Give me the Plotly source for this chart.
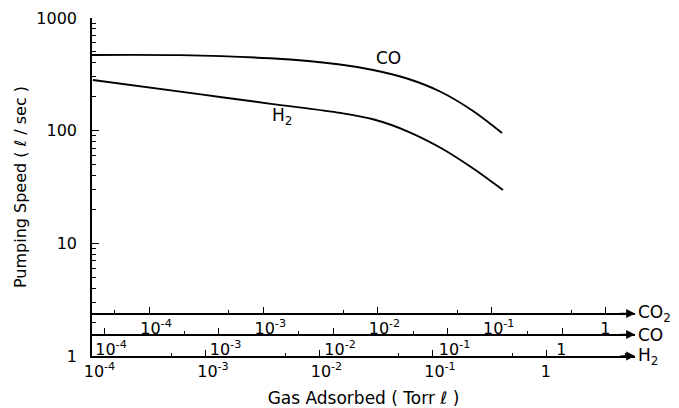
import numpy as np
import plotly.graph_objects as go

# ---- data ----
co_x = [7.85e-5, 4.61e-4, 2.82e-3, 0.01151, 0.02235, 0.04428, 0.08599, 0.1670, 0.2992]
co_y = [470, 468, 438.7, 386.6, 345.5, 290.4, 222.6, 149.5, 95.3]

h2_x = [1.01e-4, 9.03e-4, 3.738e-3, 0.01547, 0.03021, 0.06021, 0.1176, 0.2297, 0.4137]
h2_y = [281.6, 209.8, 173.1, 143.4, 125.6, 98.3, 70.2, 45.7, 29.7]

y_tick_vals = [1, 10, 100, 1000]
y_tick_text = ["1", "10", "100", "1000"]
y_minor_vals = [m * d for d in (1, 10, 100) for m in range(2, 10)]

x_tick_vals = [1e-4, 1e-3, 1e-2, 1e-1, 1]
NB = "\u00a0"
x_tick_text = ["10<sup>-4</sup>", "10<sup>-3</sup>", "10<sup>-2</sup>", "10<sup>-1</sup>", "1" + NB * 3]
x_minor_vals = [5e-5, 5e-4, 5e-3, 5e-2, 0.5, 5]

# log ranges of the three gas scales (shifted relative to each other)
h2_range = [-4.004, 0.780]
co_range = [-4.105, 0.637]
co2_range = [-4.499, 0.254]

axis_labels = ["CO<sub>2</sub>", "CO", "H<sub>2</sub>"]
axis_positions = [0.1257, 0.0636, 0.0]

FONT = "DejaVu Sans"
fig = go.Figure()

line_style = dict(color="black", width=1.9, shape="spline", smoothing=0.9)
fig.add_trace(go.Scatter(x=h2_x, y=h2_y, mode="lines", xaxis="x", yaxis="y",
                         line=line_style, showlegend=False, hoverinfo="skip"))
fig.add_trace(go.Scatter(x=co_x, y=co_y, mode="lines", xaxis="x2", yaxis="y",
                         line=line_style, showlegend=False, hoverinfo="skip"))
fig.add_trace(go.Scatter(x=[], y=[], mode="lines", xaxis="x3", yaxis="y",
                         showlegend=False, hoverinfo="skip"))

def xaxis_common(rng):
    return dict(type="log", range=rng, tickmode="array", tickvals=x_tick_vals,
                ticktext=x_tick_text, ticks="inside", ticklen=6, tickwidth=1.3,
                tickcolor="black", showline=True, linecolor="black", linewidth=1.6,
                showgrid=False, zeroline=False, ticklabelshift=7, automargin=False,
                tickfont=dict(family=FONT, size=16, color="black"),
                minor=dict(tickmode="array", tickvals=x_minor_vals, ticks="inside",
                           ticklen=3, tickwidth=1.2, tickcolor="black", showgrid=False))

xa = xaxis_common(h2_range)
xa.update(domain=[0, 1], anchor="y",
          title=dict(text="Gas Adsorbed ( Torr ℓ )", standoff=14,
                     font=dict(family=FONT, size=17, color="black")))
xa2 = xaxis_common(co_range)
xa2.update(overlaying="x", anchor="free", position=axis_positions[1], side="bottom")
xa3 = xaxis_common(co2_range)
xa3.update(overlaying="x", anchor="free", position=axis_positions[0], side="bottom")

fig.update_layout(
    width=679, height=408,
    margin=dict(l=92, r=44, t=18, b=52),
    paper_bgcolor="white", plot_bgcolor="white",
    font=dict(family=FONT, size=16, color="black"),
    xaxis=xa, xaxis2=xa2, xaxis3=xa3,
    yaxis=dict(type="log", range=[0, 3], tickmode="array", tickvals=y_tick_vals,
               ticktext=y_tick_text, ticks="inside", ticklen=7, tickwidth=1.3,
               tickcolor="black", showline=True, linecolor="black", linewidth=1.6,
               showgrid=False, zeroline=False, ticklabelstandoff=10, automargin=False,
               tickfont=dict(family=FONT, size=16, color="black"),
               minor=dict(tickmode="array", tickvals=y_minor_vals, ticks="inside",
                          ticklen=4, tickwidth=1.2, tickcolor="black", showgrid=False),
               title=dict(text="Pumping Speed ( ℓ / sec )", standoff=6,
                          font=dict(family=FONT, size=16, color="black"))),
    showlegend=False,
)

annotations = []
for lab, pos in zip(axis_labels, axis_positions):
    annotations.append(dict(x=1, y=pos, xref="paper", yref="paper", text="",
                            showarrow=True, ax=-16, ay=0, axref="pixel", ayref="pixel",
                            arrowhead=2, arrowsize=1.1, arrowwidth=1.6, arrowcolor="black",
                            standoff=0))
    annotations.append(dict(x=1, y=pos, xref="paper", yref="paper", text=lab,
                            showarrow=False, xanchor="left", yanchor="middle", xshift=1,
                            font=dict(family=FONT, size=17, color="black")))

# curve labels
annotations.append(dict(x=np.log10(0.0308), y=np.log10(443), xref="x2", yref="y",
                        text="CO", showarrow=False,
                        font=dict(family=FONT, size=17, color="black")))
annotations.append(dict(x=np.log10(4.7e-3), y=np.log10(133), xref="x", yref="y",
                        text="H<sub>2</sub>", showarrow=False,
                        font=dict(family=FONT, size=17, color="black")))
fig.update_layout(annotations=annotations)

fig.write_html("out.html", config={"displayModeBar": False},
               post_script="document.body.style.margin='0px';document.body.style.overflow='hidden';")
